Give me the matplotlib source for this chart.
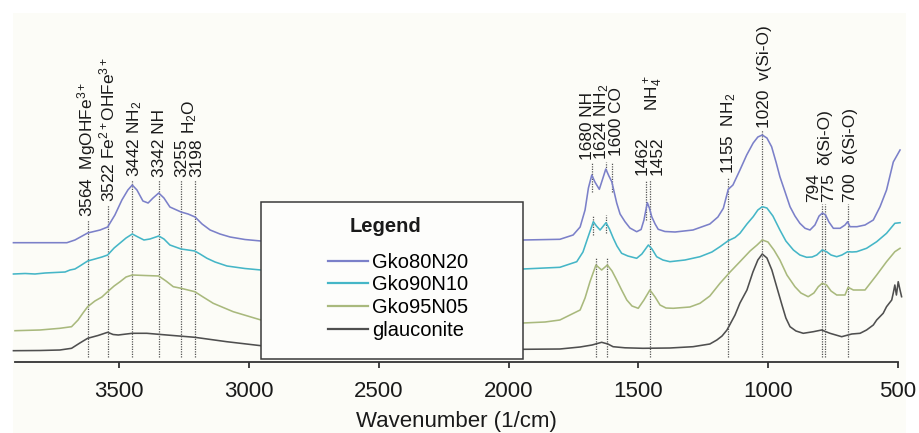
import matplotlib
matplotlib.use("Agg")
import matplotlib.pyplot as plt
from matplotlib.patches import Rectangle
from matplotlib.transforms import offset_copy
import numpy as np

plt.rcParams['font.family'] = ['Liberation Sans', 'DejaVu Sans']
plt.rcParams['mathtext.fontset'] = 'custom'
plt.rcParams['mathtext.rm'] = 'Liberation Sans'
plt.rcParams['mathtext.it'] = 'Liberation Sans:italic'
plt.rcParams['mathtext.bf'] = 'Liberation Sans:bold'

# ---------------- data (wavenumber, offset intensity) ----------------
series_names = ["Gko80N20", "Gko90N10", "Gko95N05", "glauconite"]

wn_80 = [3908, 3702, 3671, 3622, 3574, 3545, 3517, 3490, 3467, 3450, 3432, 3409, 3389, 3370,
         3348, 3328, 3305, 3262, 3235, 3208, 3181, 3150, 3112, 3073, 3016, 2954, 2500, 1944,
         1802, 1751, 1724, 1705, 1692, 1679, 1667, 1650, 1636, 1625, 1613, 1602, 1583, 1570,
         1551, 1532, 1506, 1489, 1478, 1465, 1457, 1448, 1435, 1423, 1397, 1358, 1289, 1224,
         1193, 1172, 1153, 1135, 1108, 1082, 1057, 1039, 1022, 1004, 986, 969, 954, 934, 915,
         896, 877, 857, 838, 819, 803, 790, 778, 765, 748, 722, 703, 693, 684, 657, 626, 594,
         568, 543, 517, 491]
y_80 = [119.3, 119.3, 122, 129, 132, 135, 147, 162, 172, 177, 172, 161, 159, 164,
        169, 164, 155, 150, 148, 145, 138, 132, 128, 125, 122.5, 121, 120.5, 122,
        122.7, 127, 135, 152, 174, 187, 180, 172.7, 184, 193, 186, 180.3, 159, 148,
        140.3, 134, 130.3, 132.5, 142, 159.3, 154, 145.3, 138, 132.7, 130.5, 130, 132, 138,
        145, 153.7, 172.7, 177, 192, 207, 219, 225, 227, 224, 215.3, 200, 185.3, 170, 155.3,
        146, 138.7, 133.7, 132, 137, 146, 149, 147, 140, 133.7, 133.7, 137, 140.3, 135.3, 135.3, 137, 142,
        155.3, 172, 200, 212]

wn_90 = [3908, 3863, 3825, 3786, 3748, 3709, 3690, 3671, 3652, 3622, 3594, 3567, 3545, 3520,
         3497, 3474, 3450, 3428, 3405, 3382, 3348, 3328, 3305, 3262, 3235, 3209, 3189, 3162,
         3131, 3085, 3016, 2954, 2500, 1944, 1802, 1737, 1713, 1693, 1673, 1661, 1647, 1624,
         1611, 1596, 1582, 1564, 1540, 1506, 1486, 1461, 1447, 1429, 1405, 1378, 1320, 1262,
         1216, 1185, 1153, 1127, 1108, 1081, 1057, 1039, 1022, 1004, 981, 954, 931, 902, 877,
         851, 830, 812, 791, 774, 757, 735, 715, 693, 676, 658, 620, 581, 543, 511, 491]
y_90 = [88, 88.5, 88, 89, 89.5, 90, 92, 93, 96, 101, 103, 105, 107, 114,
        119, 124, 128, 125, 122, 123, 126, 123, 117, 113, 112, 111, 108, 103.7,
        100, 96, 93.5, 92, 92.5, 93, 94.7, 100.3, 110, 125.3, 140.3, 136, 132, 139.3,
        133, 123.7, 116, 108.7, 106, 103.7, 108, 117, 113, 105.3, 102, 100.3, 102, 105.3,
        110, 115.3, 121.3, 124.5, 128.7, 138, 145.3, 152, 155.3, 154, 146, 132, 121, 112, 107,
        104.7, 105, 107, 112, 110.3, 107, 105.3, 107, 110.3, 110, 110.3, 113.7, 120.3, 128.7, 138.7, 139.3]

wn_95 = [3902, 3806, 3729, 3684, 3659, 3640, 3622, 3594, 3567, 3545, 3520, 3497, 3474, 3450,
         3401, 3348, 3320, 3292, 3262, 3209, 3177, 3138, 3061, 2954, 2500, 1944, 1859, 1802,
         1724, 1705, 1686, 1663, 1641, 1619, 1601, 1583, 1564, 1544, 1524, 1500, 1478, 1455,
         1435, 1416, 1393, 1365, 1301, 1262, 1224, 1185, 1146, 1108, 1069, 1042, 1022, 1000,
         977, 954, 927, 896, 873, 845, 823, 806, 791, 774, 757, 735, 703, 691, 671, 626, 581,
         543, 511, 491]
y_95 = [31.3, 32, 33.7, 35.3, 42, 49, 55.3, 61, 65, 70.3, 76, 80.3, 85, 87,
        86.5, 86, 81, 75.3, 73.7, 70.3, 65, 58.7, 50.3, 42, 40, 39, 40, 42,
        52, 64, 80.3, 97, 92, 97, 91, 82, 72, 62, 56, 53.7, 62, 72,
        65, 57, 54, 53.7, 55, 58.7, 66, 78.7, 90, 100.3, 111, 117, 122, 120,
        112, 102, 87, 75.3, 69, 65.3, 69, 75.3, 78.7, 77, 71, 67, 67, 74.7, 72, 72, 87,
        100.3, 110.3, 113.7]

wn_gl = [3908, 3806, 3729, 3684, 3652, 3622, 3582, 3545, 3524, 3504, 3450, 3394, 3317, 3209,
         3086, 2954, 2500, 1944, 1802, 1724, 1678, 1641, 1617, 1597, 1551, 1482, 1378, 1289,
         1224, 1197, 1177, 1158, 1127, 1108, 1081, 1058, 1039, 1022, 1004, 985, 965, 946, 931,
         915, 892, 864, 825, 793, 761, 716, 677, 645, 620, 594, 581, 556, 543, 523, 517, 511,
         505, 498, 491, 485]
y_gl = [11.3, 11.5, 12, 13.7, 19, 23.7, 26.5, 29.7, 27.5, 27, 28.7, 28.7, 27, 24.7,
        20.3, 16.3, 13.5, 12.7, 13, 15, 17, 19.7, 18, 15.3, 14.2, 13.7, 14, 15.3,
        18, 22, 26, 32, 47, 59, 72, 90, 102, 108, 104, 92, 74, 57, 44,
        35.3, 31, 28.7, 30.3, 32, 28.7, 25.3, 28, 28.7, 32, 37, 42, 48.7, 55.3, 62, 69, 77,
        67, 80.3, 72, 65.3]

# peak annotation labels: text, wavenumber, height of label start
label_texts = ["3564  MgOHFe$^{3+}$", "3522 Fe$^{2+}$OHFe$^{3+}$", "3442 NH$_2$", "3342 NH",
               "3255", "3198", "H$_2$O", "1680 NH", "1624 NH$_2$", "1600 CO", "1462", "1452",
               "NH$_4^+$", "1155  NH$_2$", "1020  v(Si-O)", "794", "775", "δ(Si-O)",
               "700  δ(Si-O)"]
label_wn = [3626, 3542, 3446, 3351, 3266, 3207, 3235, 1702, 1646, 1589, 1490, 1432,
            1448, 1159, 1021, 830, 771, 788, 690]
label_h = [145, 160, 185, 185, 185, 185, 228, 202, 202, 206, 187, 187,
           251, 188, 234, 160, 160, 197, 160]

# dotted marker segments: wavenumber, top, bottom
seg_wn = [3622, 3545, 3450, 3348, 3262, 3209, 1679, 1673, 1663, 1625, 1624, 1619, 1602,
          1470, 1455, 1155, 1022, 792, 782, 693]
seg_top = [142, 157, 182, 182, 182, 182, 200, 147, 105, 200, 147, 104, 200,
           182, 182, 184, 232, 158, 158, 158]
seg_bot = [5, 5, 5, 5, 5, 5, 170, 127, 5, 192, 129, 5, 170,
           142, 5, 5, 5, 5, 5, 5]

xticks = [3500, 3000, 2500, 2000, 1500, 1000, 500]

# ---------------- figure ----------------
W, H = 919, 433
fig = plt.figure(figsize=(W / 100, H / 100), dpi=100, facecolor='white')
fig.add_artist(Rectangle((13 / W, 0), (906 - 13) / W, 1 - 13 / H, transform=fig.transFigure,
                         facecolor='#fcfcf7', edgecolor='none', zorder=-5))

ax = fig.add_axes([15 / W, (H - 362) / H, (897.7 - 15) / W, 349 / H])
ax.set_facecolor('none')

colors = ['#7b80c9', '#45b6c7', '#a9b97d', '#4f4f4f']
series = [(wn_80, y_80), (wn_90, y_90), (wn_95, y_95), (wn_gl, y_gl)]
for (x, y), c, name in zip(series, colors, series_names):
    ax.plot(x, y, color=c, lw=1.15, label=name, clip_on=False, zorder=2)

for xw, t, b in zip(seg_wn, seg_top, seg_bot):
    ax.plot([xw, xw], [b, t], color='#555555', lw=0.9, ls=(0, (1, 1)), zorder=1.5)

tr = offset_copy(ax.transData, fig=fig, x=4.4, y=0, units='points')
for t, xw, hb in zip(label_texts, label_wn, label_h):
    ax.text(xw, hb, t, transform=tr, rotation=90, rotation_mode='anchor',
            ha='left', va='baseline', fontsize=12.4, color='#1a1a1a', clip_on=False)

ax.set_xlim(3902, 500)
ax.set_ylim(0, 349)
ax.set_xticks(xticks)
ax.set_xticklabels([str(v) for v in xticks], fontsize=16, color='#1a1a1a')
ax.set_yticks([])
for s in ['left', 'right', 'top']:
    ax.spines[s].set_visible(False)
ax.spines['bottom'].set_linewidth(1.3)
ax.spines['bottom'].set_color('#333333')
ax.tick_params(axis='x', direction='out', length=4, width=1.3, color='#333333', pad=9.5)
ax.set_xlabel("Wavenumber (1/cm)", fontsize=16, color='#1a1a1a', labelpad=7)

# legend box
ax.add_patch(Rectangle((261 / W, 1 - 359 / H), (523 - 261) / W, (359 - 202) / H,
                       transform=fig.transFigure, facecolor='#fdfdfb', edgecolor='#3a3a3a',
                       lw=1.1, zorder=4))
ax.text(385.7 / W, 1 - 226.7 / H, "Legend", transform=fig.transFigure, fontsize=14.5,
        fontweight='bold', ha='center', va='center', color='#1a1a1a', zorder=6)
leg = ax.legend(loc='center left', bbox_to_anchor=(328.3 / W, 1 - 296.3 / H),
                bbox_transform=fig.transFigure, frameon=False, fontsize=14.5,
                handlelength=1.95, handletextpad=0.22, labelspacing=0.18,
                borderpad=0, borderaxespad=0)
leg.set_zorder(6)
for lh in leg.get_lines():
    lh.set_linewidth(1.6)

fig.savefig("out.png", dpi=100, facecolor=fig.get_facecolor())
